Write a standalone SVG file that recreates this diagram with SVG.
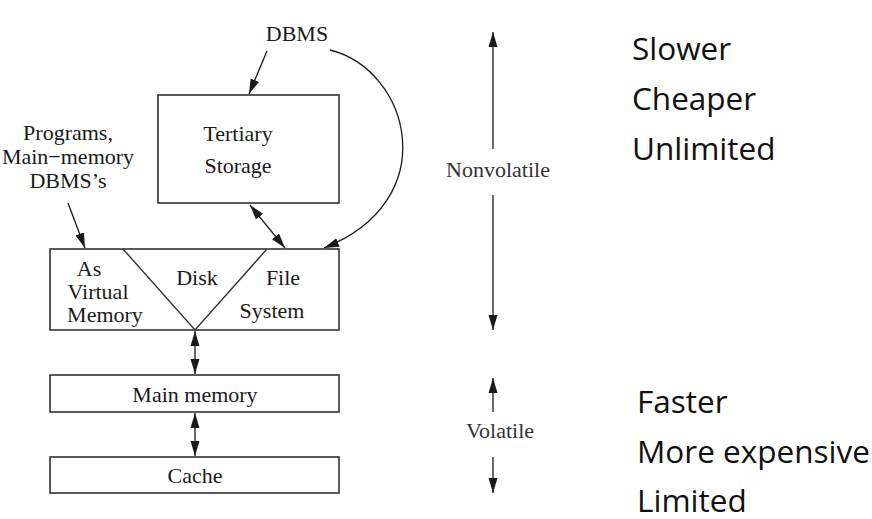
<svg xmlns="http://www.w3.org/2000/svg" width="872" height="519" viewBox="0 0 872 519">
<defs>
<marker id="ah" markerUnits="userSpaceOnUse" markerWidth="16" markerHeight="10" refX="15" refY="5" orient="auto-start-reverse" viewBox="0 0 16 10">
<path d="M0,0.5 L15,5 L0,9.5 Z" fill="#1a1a1a"/>
</marker>
</defs>
<style>
.box{fill:#fff;stroke:#333;stroke-width:1.6}
.ln{fill:none;stroke:#1a1a1a;stroke-width:1.3}
.t{font-family:"Liberation Serif","Times New Roman",serif;font-size:22px;fill:#1a1a1a;text-anchor:middle}
.s{font-family:"Open Sans","Noto Sans",sans-serif;font-size:31.5px;fill:#111}
</style>
<rect width="872" height="519" fill="#fff"/>
<g id="connectors">
<line class="ln" x1="267" y1="51" x2="249" y2="94" marker-end="url(#ah)"/>
<path class="ln" d="M330,50 C410,70 445,200 324,248" marker-end="url(#ah)"/>
<line class="ln" x1="68" y1="203" x2="85" y2="248" marker-end="url(#ah)"/>
<line class="ln" x1="250" y1="205" x2="285" y2="248" marker-start="url(#ah)" marker-end="url(#ah)"/>
<line class="ln" x1="195" y1="331" x2="195" y2="374" marker-start="url(#ah)" marker-end="url(#ah)"/>
<line class="ln" x1="195" y1="413" x2="195" y2="456" marker-start="url(#ah)" marker-end="url(#ah)"/>
<line class="ln" x1="493" y1="32" x2="493" y2="149" marker-start="url(#ah)"/>
<line class="ln" x1="493" y1="195" x2="493" y2="330" marker-end="url(#ah)"/>
<line class="ln" x1="493" y1="378" x2="493" y2="412" marker-start="url(#ah)"/>
<line class="ln" x1="493" y1="457" x2="493" y2="493" marker-end="url(#ah)"/>
</g>
<g id="dbms"><text class="t" x="297" y="41">DBMS</text></g>
<g id="programs">
<text class="t" x="68" y="140">Programs,</text>
<text class="t" x="68" y="164">Main−memory</text>
<text class="t" x="68" y="188">DBMS’s</text>
</g>
<g id="tertiary">
<rect class="box" x="158" y="95" width="181" height="108"/>
<text class="t" x="238" y="141">Tertiary</text>
<text class="t" x="238" y="173">Storage</text>
</g>
<g id="disk">
<rect class="box" x="50" y="249" width="289" height="81"/>
<path class="ln" d="M123,249 L195,330 L267,249" style="stroke:#333;stroke-width:1.4"/>
<text class="t" x="89" y="276">As</text>
<text class="t" x="98" y="299">Virtual</text>
<text class="t" x="105" y="322">Memory</text>
<text class="t" x="197" y="285">Disk</text>
<text class="t" x="283" y="285">File</text>
<text class="t" x="272" y="318">System</text>
</g>
<g id="mainmemory">
<rect class="box" x="50" y="375" width="289" height="37"/>
<text class="t" x="195" y="402">Main memory</text>
</g>
<g id="cache">
<rect class="box" x="50" y="457" width="289" height="36"/>
<text class="t" x="195" y="483">Cache</text>
</g>
<g id="nonvolatile"><text class="t" x="498" y="177" style="fill:#333">Nonvolatile</text></g>
<g id="volatile"><text class="t" x="500" y="438" style="fill:#333">Volatile</text></g>
<g id="slow">
<text class="s" x="632" y="60">Slower</text>
<text class="s" x="632" y="110">Cheaper</text>
<text class="s" x="632" y="160">Unlimited</text>
</g>
<g id="fast">
<text class="s" x="637" y="413">Faster</text>
<text class="s" x="637" y="463">More expensive</text>
<text class="s" x="637" y="512">Limited</text>
</g>
</svg>
